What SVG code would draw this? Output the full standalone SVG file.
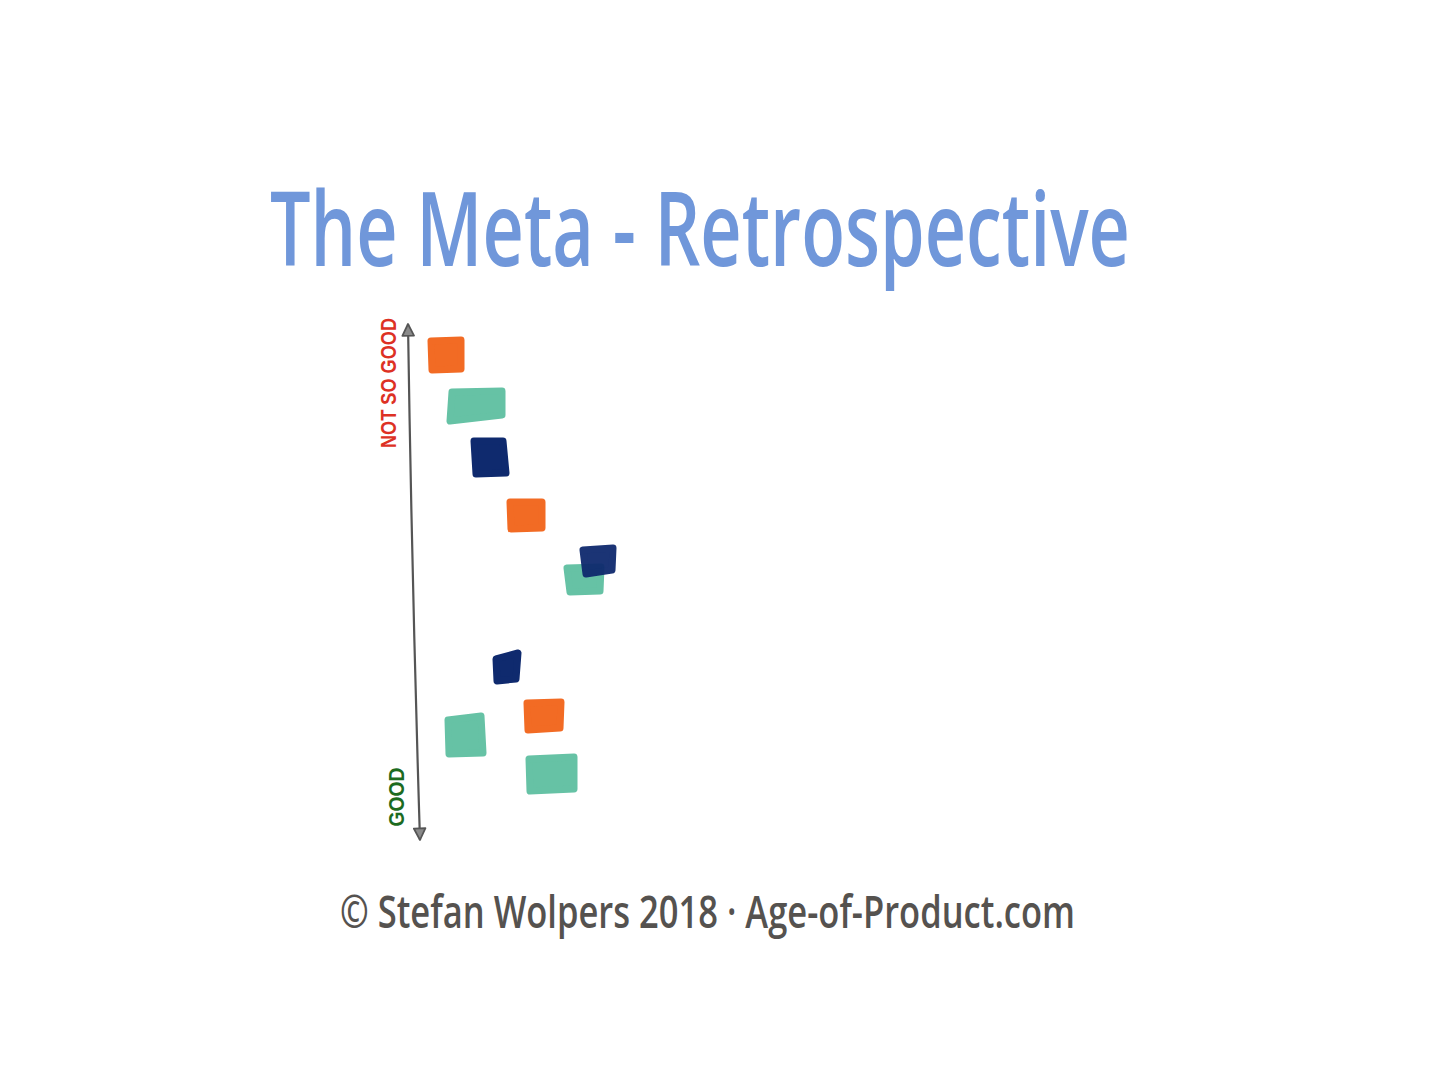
<svg xmlns="http://www.w3.org/2000/svg" width="1456" height="1092" viewBox="0 0 1456 1092">
<style>
.title{font-family:"Open Sans","Liberation Sans",sans-serif;font-weight:600;font-size:80px;fill:#7097da;}
.foot{font-family:"Open Sans","Liberation Sans",sans-serif;font-weight:600;font-size:40px;fill:#55524f;}
.lbl{font-family:"Liberation Sans",sans-serif;font-weight:bold;font-size:22px;}
.org{fill:#f26b24;stroke:#f26b24;}
.teal{fill:#66c2a5;stroke:#66c2a5;}
.navy{fill:#0f2a6e;stroke:#0f2a6e;}
.card{stroke-width:7;stroke-linejoin:round;}
.axis{fill:none;stroke:#555555;stroke-width:2.2;}
</style>
<defs>
<marker id="ah" viewBox="0 0 12 12" refX="11" refY="6" markerWidth="14" markerHeight="14" orient="auto-start-reverse" markerUnits="userSpaceOnUse">
<path d="M1,1 L11,6 L1,11 z" fill="#8a8a8a" stroke="#555555" stroke-width="1.5" stroke-linejoin="round"/>
</marker>
</defs>
<rect width="1456" height="1092" fill="#ffffff"/>
<g id="title"><text class="title" transform="translate(270,266) scale(1,1.3)" x="0" y="0" textLength="860" lengthAdjust="spacingAndGlyphs">The Meta - Retrospective</text></g>
<g id="connectors">
<path class="axis" d="M408,324 Q412,585 420,840" marker-start="url(#ah)" marker-end="url(#ah)"/>
</g>
<g id="label-not-so-good"><text class="lbl" fill="#dd3124" transform="translate(396,383) rotate(-90)" text-anchor="middle" textLength="130" lengthAdjust="spacingAndGlyphs">NOT SO GOOD</text></g>
<g id="label-good"><text class="lbl" fill="#1d6b1f" transform="translate(404,797) rotate(-90)" text-anchor="middle" textLength="59" lengthAdjust="spacingAndGlyphs">GOOD</text></g>
<g id="card1"><polygon class="card org" points="431,341 461,340 461,369 432,370"/></g>
<g id="card2"><polygon class="card teal" points="452,392 502,391 502,415 450,421"/></g>
<g id="card3"><polygon class="card navy" points="474,441 503,441 506,473 476,474"/></g>
<g id="card4"><polygon class="card org" points="510,502 542,502 542,528 511,529"/></g>
<g id="card5"><polygon class="card teal" points="567,568 601,567 600,591 570,592"/></g>
<g id="card6"><polygon class="card navy" opacity="0.95" points="583,550 613,548 612,570 586,574"/></g>
<g id="card7"><polygon class="card navy" points="496,659 518,653 516,679 497,681"/></g>
<g id="card8"><polygon class="card org" points="527,703 561,702 560,728 528,730"/></g>
<g id="card9"><polygon class="card teal" points="448,720 481,716 483,753 449,754"/></g>
<g id="card10"><polygon class="card teal" points="529,759 574,757 574,789 530,791"/></g>
<g id="footer"><text class="foot" transform="translate(340,928) scale(1,1.15)" x="0" y="0" textLength="735" lengthAdjust="spacingAndGlyphs">© Stefan Wolpers 2018 · Age-of-Product.com</text></g>
</svg>
